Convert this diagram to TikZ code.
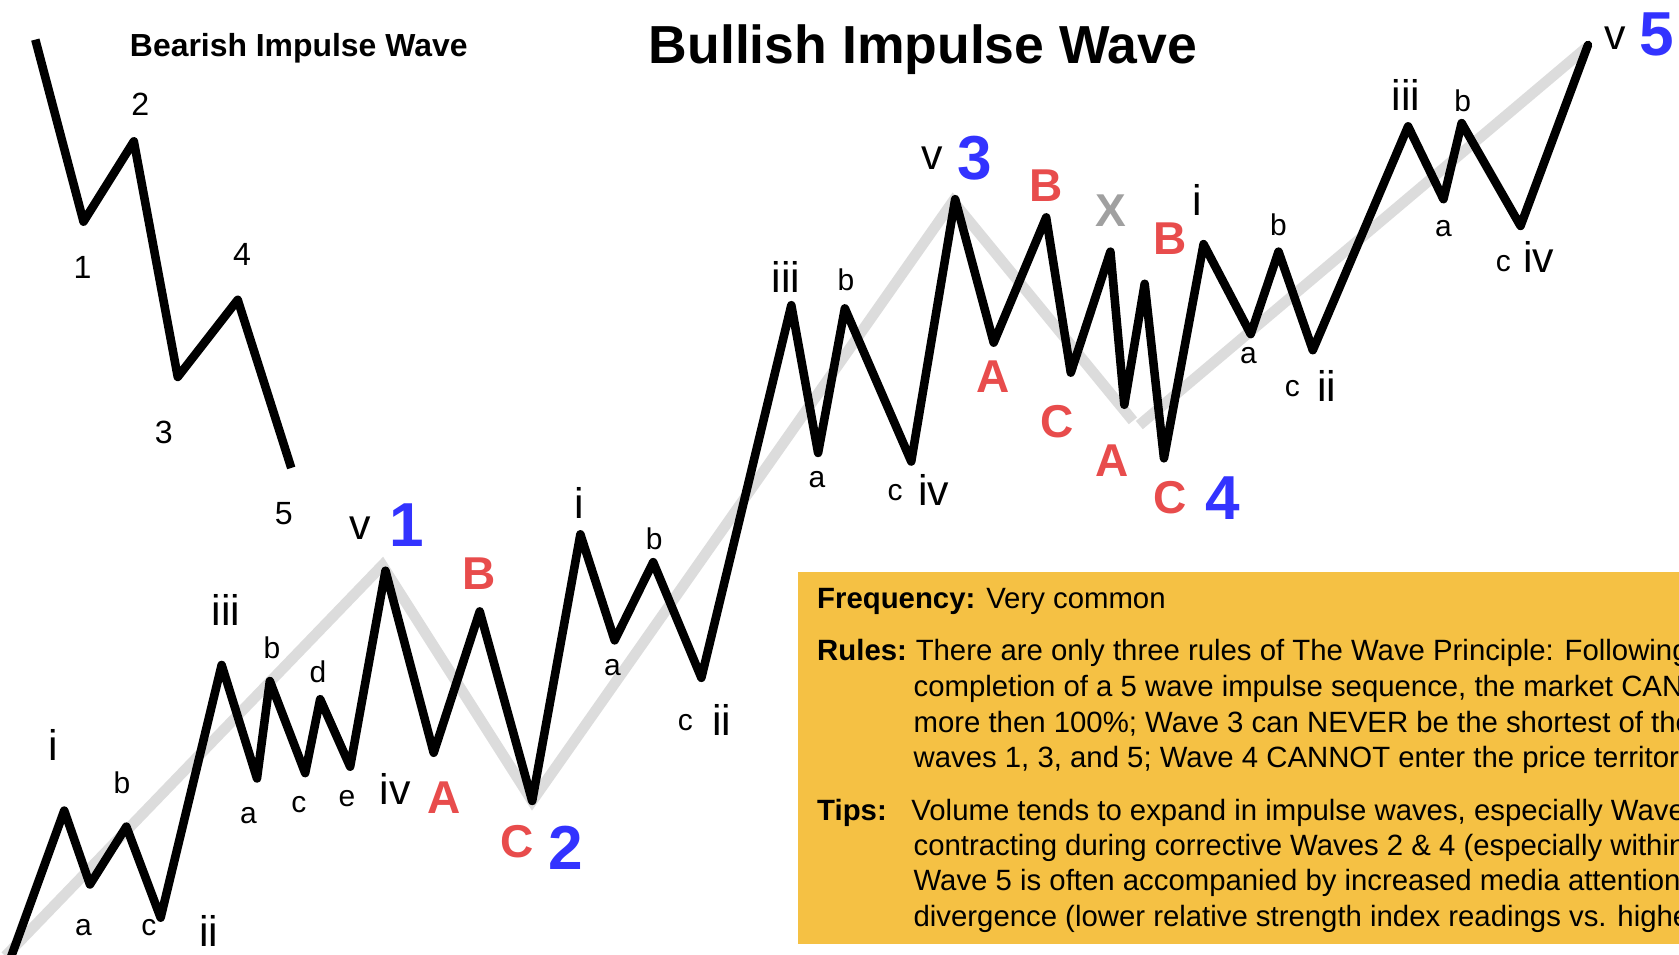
\documentclass[tikz,border=0pt]{standalone}
\usepackage{fontspec}
\setmainfont{Liberation Sans}
\definecolor{numblue}{HTML}{3333FF}
\definecolor{corrred}{HTML}{E84C4C}
\definecolor{xgrey}{HTML}{A0A0A0}
\definecolor{trendgrey}{HTML}{DCDCDC}
\definecolor{notebox}{HTML}{F5C144}
\newcommand{\setsz}[1]{\fontsize{#1}{#1}\selectfont}

\begin{document}
\begin{tikzpicture}[x=1pt, y=-1pt,
  waveline/.style={line width=8pt, line join=round, line cap=round},
  trendline/.style={line width=10pt, trendgrey},
  sml/.style={inner sep=0pt, font=\setsz{28}},
  rom/.style={inner sep=0pt, font=\setsz{40}},
  bear/.style={inner sep=0pt, font=\setsz{30}},
  corr/.style={inner sep=0pt, text=corrred, font=\bfseries\setsz{43}},
  num/.style={inner sep=0pt, text=numblue, font=\bfseries\setsz{58}},
  boxtxt/.style={inner sep=0pt, anchor=base west, font=\setsz{27.4}},
]
\useasboundingbox (0,0) rectangle (1568,891);
\fill[white] (0,0) rectangle (1568,891);

% titles
\node[inner sep=0pt, font=\bfseries\setsz{50}] (bulltitle) at (862,46) {Bullish Impulse Wave};
\node[inner sep=0pt, font=\bfseries\setsz{29.8}] (beartitle) at (279,45) {Bearish Impulse Wave};

% bearish wave
\draw[waveline, line cap=butt] (33,37) -- (78,207) -- (125,132) -- (166,352) -- (222,280) -- (272,437);
\node[bear] (b1) at (77,250) {1};
\node[bear] (b2) at (131,97) {2};
\node[bear] (b3) at (153,404) {3};
\node[bear] (b4) at (226,238) {4};
\node[bear] (b5) at (265,480) {5};

% note box
\fill[notebox] (745,534) rectangle (1568,882);
\node[boxtxt] (freq) at (763,568) {\textbf{Frequency:} Very common};
\node[boxtxt] (ruleshd) at (763,617) {\textbf{Rules:}};
\node[boxtxt] (rules1) at (855,617) {There are only three rules of The Wave Principle: Following};
\node[boxtxt] (rules2) at (853,650) {completion of a 5 wave impulse sequence, the market CAN};
\node[boxtxt] (rules3) at (853,684) {more then 100\%; Wave 3 can NEVER be the shortest of the};
\node[boxtxt] (rules4) at (853,717) {waves 1, 3, and 5; Wave 4 CANNOT enter the price territory};
\node[boxtxt] (tipshd) at (763,766) {\textbf{Tips:}};
\node[boxtxt] (tips1) at (851,766) {Volume tends to expand in impulse waves, especially Wave};
\node[boxtxt] (tips2) at (853,799) {contracting during corrective Waves 2 \& 4 (especially within};
\node[boxtxt] (tips3) at (853,832) {Wave 5 is often accompanied by increased media attention};
\node[boxtxt] (tips4) at (853,865) {divergence (lower relative strength index readings vs. highe};

% trend
\draw[trendline] (5,893) -- (357,528) -- (497,748) -- (890,188) -- (1058,393);
\draw[trendline] (1064,397) -- (1481,45);

% bullish wave
\draw[waveline] (8,900) -- (60,757) -- (84,826) -- (118,772) -- (150,857)
  -- (207,621) -- (240,727) -- (252,636) -- (285,722) -- (299,653) -- (327,716)
  -- (360,533) -- (405,703) -- (448,571) -- (497,748)
  -- (542,499) -- (574,598) -- (610,525) -- (655,633)
  -- (739,285) -- (764,423) -- (789,288) -- (851,431) -- (892,186)
  -- (928,320) -- (977,203) -- (1000,348) -- (1037,235) -- (1050,378) -- (1069,265) -- (1087,428)
  -- (1124,228) -- (1168,312) -- (1194,235) -- (1226,327)
  -- (1315,118) -- (1348,186) -- (1365,115) -- (1420,211) -- (1483,42);

% wave 1
\node[rom] (w1i) at (50,696) {i};
\node[sml] (w1a) at (78,866) {a};
\node[sml] (w1b) at (114,731) {b};
\node[sml] (w1c) at (139,866) {c};
\node[rom] (w1ii) at (195,869) {ii};
\node[rom] (w1iii) at (211,570) {iii};
\node[sml] (w1ta) at (232,762) {a};
\node[sml] (w1tb) at (254,605) {b};
\node[sml] (w1tc) at (279,751) {c};
\node[sml] (w1td) at (297,627) {d};
\node[sml] (w1te) at (324,746) {e};
\node[rom] (w1iv) at (369,737) {iv};
\node[rom] (w1v) at (336,493) {v};
\node[num] (n1) at (380,490) {1};
% wave 2
\node[corr] (w2a) at (415,745) {A};
\node[corr] (w2b) at (447,536) {B};
\node[corr] (w2c) at (483,786) {C};
\node[num] (n2) at (528,792) {2};
% wave 3
\node[rom] (w3i) at (541,470) {i};
\node[sml] (w3a) at (572,623) {a};
\node[sml] (w3b) at (611,503) {b};
\node[sml] (w3c) at (640,675) {c};
\node[rom] (w3ii) at (674,672) {ii};
\node[rom] (w3iii) at (734,259) {iii};
\node[sml] (w3ta) at (763,448) {a};
\node[sml] (w3tb) at (790,261) {b};
\node[sml] (w3tc) at (836,460) {c};
\node[rom] (w3iv) at (872,458) {iv};
\node[rom] (w3v) at (871,148) {v};
\node[num] (n3) at (910,148) {3};
% wave 4
\node[corr] (w4a) at (927,352) {A};
\node[corr] (w4b) at (977,173) {B};
\node[corr] (w4c) at (987,394) {C};
\node[corr, text=xgrey] (w4x) at (1037,197) {X};
\node[corr] (w4aa) at (1039,430) {A};
\node[corr] (w4bb) at (1093,223) {B};
\node[corr] (w4cc) at (1093,465) {C};
\node[num] (n4) at (1142,465) {4};
% wave 5
\node[rom] (w5i) at (1118,187) {i};
\node[sml] (w5a) at (1166,332) {a};
\node[sml] (w5b) at (1194,210) {b};
\node[sml] (w5c) at (1207,363) {c};
\node[rom] (w5ii) at (1239,360) {ii};
\node[rom] (w5iii) at (1313,89) {iii};
\node[sml] (w5ta) at (1348,213) {a};
\node[sml] (w5tb) at (1366,94) {b};
\node[sml] (w5tc) at (1404,246) {c};
\node[rom] (w5iv) at (1437,240) {iv};
\node[rom] (w5v) at (1508,36) {v};
\node[num] (n5) at (1547,32) {5};
\end{tikzpicture}
\end{document}
